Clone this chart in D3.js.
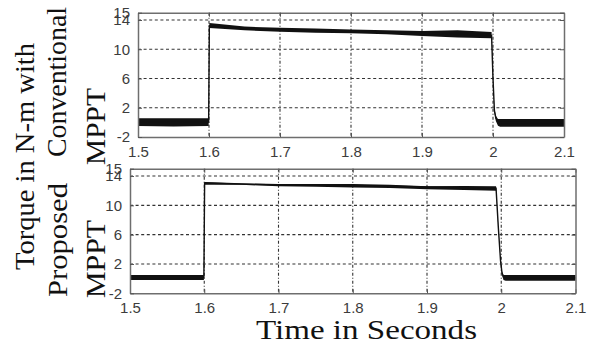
<!DOCTYPE html>
<html>
<head>
<meta charset="utf-8">
<script src="https://cdn.jsdelivr.net/npm/d3@7"></script>
<style>
  html, body { margin: 0; padding: 0; background: #fff; }
  svg { display: block; }
</style>
</head>
<body>
<svg id="chart" width="590" height="347"></svg>
<script>
// Torque traces (N-m) over time (s): centre value plus noise envelope (lo/hi)
const xTicks = [1.5, 1.6, 1.7, 1.8, 1.9, 2.0, 2.1];
const xTickLabels = ["1.5", "1.6", "1.7", "1.8", "1.9", "2", "2.1"];
const yTicks = [-2, 2, 6, 10, 14, 15];
const yTickLabels = ["-2", "2", "6", "10", "14", "15"];

// Conventional MPPT
const convTime = [1.5, 1.55, 1.5995, 1.6005, 1.65, 1.7, 1.75, 1.8, 1.85, 1.9, 1.95, 1.998, 2.0, 2.002, 2.004, 2.007, 2.01, 2.05, 2.1];
const convMid  = [0.05, 0.0, 0.05, 13.2, 12.85, 12.7, 12.55, 12.45, 12.3, 12.15, 12.1, 11.9, 6.0, 1.6, 0.6, 0.1, 0.0, -0.05, -0.05];
const convLo   = [-0.5, -0.55, -0.5, 12.9, 12.6, 12.4, 12.25, 12.2, 12.05, 11.8, 11.6, 11.5, 5.8, 1.3, 0.2, -0.45, -0.6, -0.6, -0.6];
const convHi   = [0.55, 0.55, 0.55, 13.6, 13.1, 12.95, 12.85, 12.7, 12.6, 12.5, 12.6, 12.35, 6.2, 1.9, 0.9, 0.45, 0.45, 0.45, 0.45];

// Proposed MPPT
const propTime = [1.5, 1.55, 1.5995, 1.6005, 1.65, 1.7, 1.75, 1.8, 1.85, 1.9, 1.95, 1.993, 1.996, 1.999, 2.001, 2.003, 2.006, 2.05, 2.1];
const propMid  = [0.15, 0.15, 0.15, 13.05, 12.9, 12.8, 12.75, 12.7, 12.6, 12.5, 12.45, 12.35, 7.1, 2.5, 0.8, 0.2, 0.1, 0.1, 0.1];
const propLo   = [-0.2, -0.2, -0.2, 12.8, 12.8, 12.6, 12.55, 12.45, 12.35, 12.2, 12.1, 12.0, 7.0, 2.4, 0.6, -0.2, -0.28, -0.28, -0.28];
const propHi   = [0.5, 0.5, 0.5, 13.2, 13.0, 12.9, 12.9, 12.9, 12.8, 12.6, 12.65, 12.6, 7.2, 2.6, 1.0, 0.5, 0.5, 0.5, 0.5];

const svg = d3.select("#chart");

function panel(cfg) {
  const x = d3.scaleLinear().domain([1.5, 2.1]).range([cfg.left, cfg.right]);
  const y = d3.scaleLinear().domain([-2, 15]).range([cfg.bottom, cfg.top]);
  const g = svg.append("g");

  // dotted grid
  g.append("g").selectAll("line").data(yTicks.filter(v => v > -2 && v < 15)).join("line")
    .attr("x1", cfg.left).attr("x2", cfg.right)
    .attr("y1", d => y(d)).attr("y2", d => y(d))
    .attr("stroke", "#333").attr("stroke-width", 1.1).attr("stroke-dasharray", "3,2.6");
  g.append("g").selectAll("line").data(xTicks.filter(v => v > 1.5 && v < 2.1)).join("line")
    .attr("x1", d => x(d)).attr("x2", d => x(d))
    .attr("y1", cfg.top).attr("y2", cfg.bottom)
    .attr("stroke", "#333").attr("stroke-width", 1.1).attr("stroke-dasharray", "3,2,1,2");

  // noise band and trace
  const pts = cfg.time.map((t, i) => ({ t, m: cfg.mid[i], lo: cfg.lo[i], hi: cfg.hi[i] }));
  g.append("path").datum(pts)
    .attr("d", d3.area().x(d => x(d.t)).y0(d => y(d.lo)).y1(d => y(d.hi)))
    .attr("fill", "#111");
  g.append("path").datum(pts)
    .attr("d", d3.line().x(d => x(d.t)).y(d => y(d.m)))
    .attr("fill", "none").attr("stroke", "#111").attr("stroke-width", 1.4);

  // axes frame with inward ticks
  const axB = d3.axisBottom(x).tickValues(xTicks).tickFormat((d, i) => xTickLabels[i]).tickSizeInner(-4).tickSizeOuter(0).tickPadding(9);
  const axT = d3.axisTop(x).tickValues(xTicks).tickFormat("").tickSizeInner(-4).tickSizeOuter(0);
  const axL = d3.axisLeft(y).tickValues(yTicks).tickFormat((d, i) => yTickLabels[i]).tickSizeInner(-4).tickSizeOuter(0).tickPadding(8);
  const axR = d3.axisRight(y).tickValues(yTicks).tickFormat("").tickSizeInner(-4).tickSizeOuter(0);

  const gb = g.append("g").attr("transform", `translate(0,${cfg.bottom})`).call(axB);
  const gt = g.append("g").attr("transform", `translate(0,${cfg.top})`).call(axT);
  const gl = g.append("g").attr("transform", `translate(${cfg.left},0)`).call(axL);
  const gr = g.append("g").attr("transform", `translate(${cfg.right},0)`).call(axR);
  [gb, gt, gl, gr].forEach(a => {
    a.select(".domain").attr("stroke", "#6e6e6e").attr("stroke-width", 1.5);
    a.selectAll(".tick line").attr("stroke", "#555");
    a.selectAll("text").attr("fill", "#3c3c3c")
      .attr("font-family", "Liberation Sans, Arial, sans-serif").attr("font-size", 15);
  });
}

panel({ left: 138, right: 564, top: 12.7, bottom: 137,
        time: convTime, mid: convMid, lo: convLo, hi: convHi });
panel({ left: 130, right: 575.5, top: 168.7, bottom: 293.3,
        time: propTime, mid: propMid, lo: propLo, hi: propHi });

// axis titles
const serif = "Liberation Serif, Times New Roman, serif";
svg.append("text").text("Time in Seconds")
  .attr("x", 366.5).attr("y", 339).attr("text-anchor", "middle")
  .attr("font-family", serif).attr("font-size", 28).attr("fill", "#111")
  .attr("textLength", 221).attr("lengthAdjust", "spacingAndGlyphs");

const yTitles = [
  { text: "Torque in N-m with", x: 34, y: 156.5, len: 227 },
  { text: "Conventional", x: 66, y: 82, len: 150 },
  { text: "MPPT", x: 105, y: 126.5, len: 77 },
  { text: "Proposed", x: 67, y: 240, len: 114 },
  { text: "MPPT", x: 105, y: 259, len: 78 }
];
svg.append("g").selectAll("text").data(yTitles).join("text")
  .text(d => d.text)
  .attr("transform", d => `translate(${d.x},${d.y}) rotate(-90)`)
  .attr("text-anchor", "middle")
  .attr("font-family", serif).attr("font-size", 28).attr("fill", "#111")
  .attr("textLength", d => d.len).attr("lengthAdjust", "spacingAndGlyphs");
</script>
</body>
</html>
